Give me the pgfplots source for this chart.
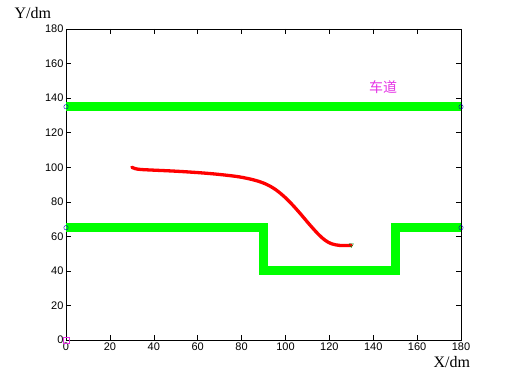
\documentclass[border=0pt]{standalone}
\usepackage{pgfplots}
\pgfplotsset{compat=1.18}
\usepackage{fontspec}
\setmainfont{Liberation Sans}
\newfontfamily\cjk{Noto Sans CJK SC}
\newfontfamily\lab{Liberation Serif}
\definecolor{lgreen}{rgb}{0,1,0}
\definecolor{mag}{rgb}{0.9,0.2,0.9}
\begin{document}
\begin{tikzpicture}
\path[use as bounding box] (-66pt,-42pt) rectangle (443pt,340pt);
\begin{axis}[
  scale only axis, width=395pt, height=311pt,
  xmin=0, xmax=180, ymin=0, ymax=180,
  xtick={0,20,...,180}, ytick={0,20,...,180},
  tick align=inside, major tick length=5pt,
  tick label style={font=\fontsize{11}{13}\selectfont},
  /pgf/number format/assume math mode=true,
  axis line style={black, line width=0.6pt},
  every tick/.style={black, line width=0.5pt},
  xticklabel style={yshift=1pt},
  yticklabel style={xshift=1pt},
  clip mode=individual,
]
\addplot[lgreen, line width=9pt, line join=miter] coordinates {(0,135) (180,135)};
\addplot[lgreen, line width=9pt, line join=miter] coordinates {(0,65) (90,65) (90,40) (150,40) (150,65) (180,65)};
\addplot[red, line width=3.3pt, line cap=round, line join=round, smooth, tension=0.55] coordinates {
(30,100) (31.5,99.2) (34,98.7) (40,98.3) (50,97.7) (61,96.8) (70,95.8) (79,94.4) (86,92.5) (91,90.3) (95,87.5) (99,83.5) (103,78.5) (107,72.8) (111,66.8) (115,61.2) (118,57.8) (121,55.7) (125,54.7) (130,54.8)};
\addplot[only marks, mark=triangle, mark size=2.5pt, draw=green!50!black, mark options={rotate=180}] coordinates {(130,55)};
\addplot[only marks, mark=o, mark size=2.2pt, blue!70!black] coordinates {(0,135) (180,135) (0,65) (180,65)};
\addplot[only marks, mark=square, mark size=3.2pt, mag] coordinates {(0,0)};
\node[text=mag, font=\cjk\fontsize{14}{16}\selectfont] at (axis cs:144.5,146.5) {车道};
\node[font=\lab\fontsize{16}{18}\selectfont] at (axis description cs:-0.084,1.052) {Y/dm};
\node[font=\lab\fontsize{16}{18}\selectfont] at (axis description cs:0.977,-0.071) {X/dm};
\end{axis}
\end{tikzpicture}
\end{document}
